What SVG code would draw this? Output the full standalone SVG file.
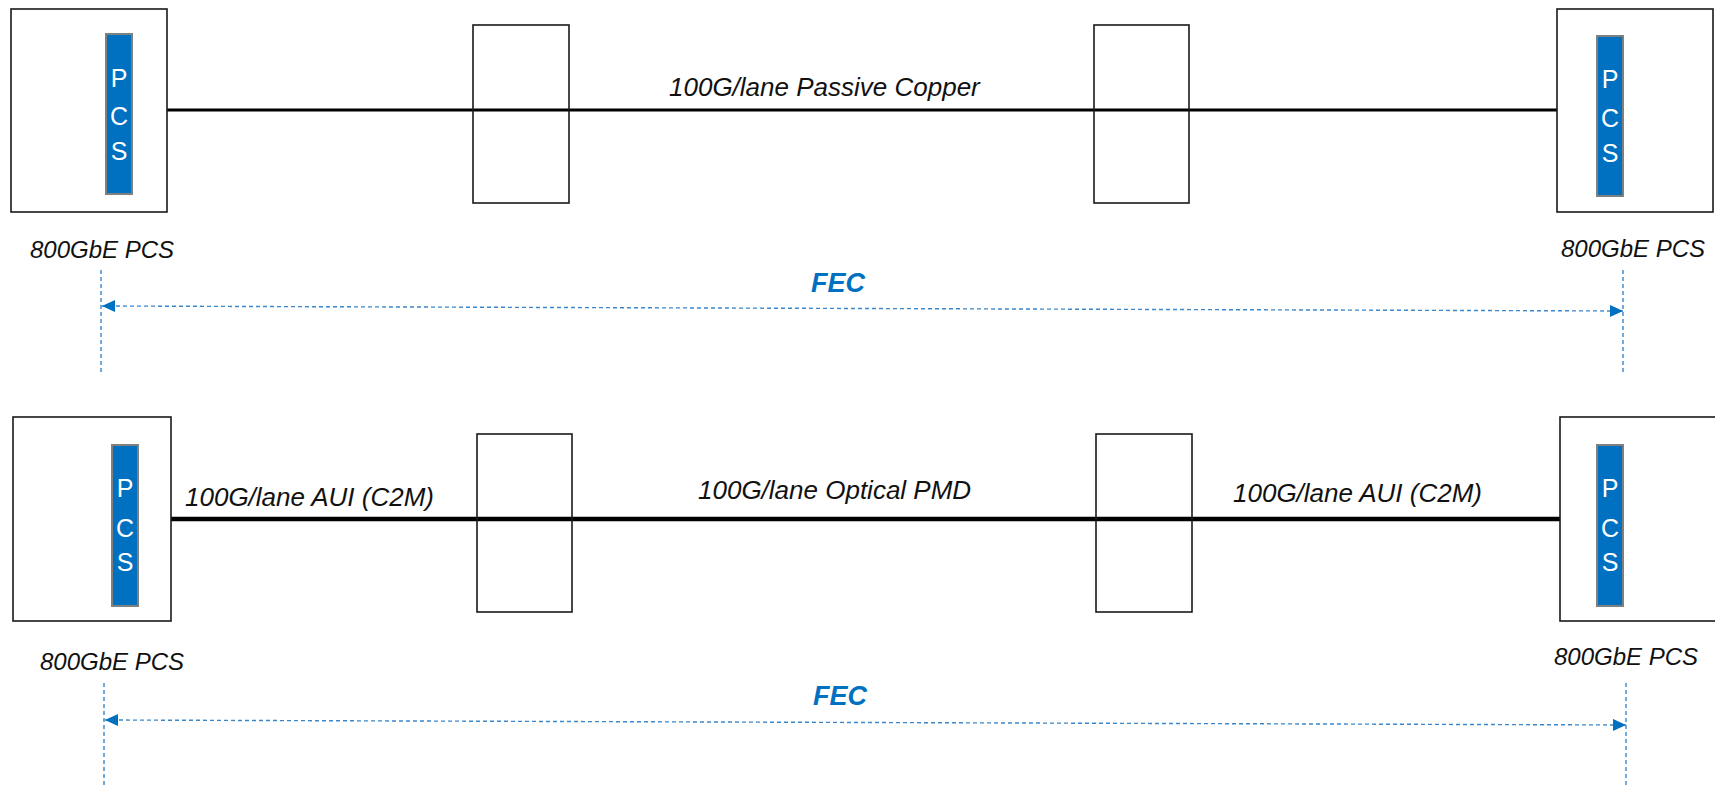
<svg xmlns="http://www.w3.org/2000/svg" width="1715" height="785" viewBox="0 0 1715 785">
<defs>
<style>
.box{fill:#fff;stroke:#1a1a1a;stroke-width:1.6}
.pcs{fill:#0070C0;stroke:#808080;stroke-width:2}
.pl{font-family:"Liberation Sans",Arial,sans-serif;font-size:25px;fill:#fff;text-anchor:middle}
.lbl{font-family:"Liberation Sans",Arial,sans-serif;font-style:italic;font-size:24px;fill:#111}
.link{font-family:"Liberation Sans",Arial,sans-serif;font-style:italic;font-size:26px;fill:#111}
.fec{font-family:"Liberation Sans",Arial,sans-serif;font-style:italic;font-weight:bold;font-size:27px;fill:#0070C0;text-anchor:middle}
.dash{fill:none;stroke:#3A87CC;stroke-width:1.4;stroke-dasharray:4 3}
.wire{stroke:#000;fill:none}
</style>
<marker id="ah" viewBox="0 0 13 12" refX="13" refY="6" markerWidth="13" markerHeight="12" markerUnits="userSpaceOnUse" orient="auto-start-reverse">
<path d="M0,0 L13,6 L0,12 Z" fill="#0070C0"/>
</marker>
</defs>
<rect width="1715" height="785" fill="#fff"/>

<g id="connectors">
<line class="wire" x1="167" y1="110" x2="1557" y2="110" stroke-width="3"/>
<line class="wire" x1="171" y1="519" x2="1560" y2="519" stroke-width="4.5"/>
<line class="dash" x1="101" y1="270" x2="101" y2="373"/>
<line class="dash" x1="1623" y1="270" x2="1623" y2="373"/>
<line class="dash" x1="102" y1="306" x2="1623" y2="311" marker-start="url(#ah)" marker-end="url(#ah)"/>
<line class="dash" x1="104" y1="683" x2="104" y2="785"/>
<line class="dash" x1="1626" y1="683" x2="1626" y2="785"/>
<line class="dash" x1="105" y1="720" x2="1626" y2="725" marker-start="url(#ah)" marker-end="url(#ah)"/>
</g>

<g id="top-left-pcs">
<rect class="box" x="11" y="9" width="156" height="203"/>
<rect class="pcs" x="106" y="34" width="26" height="160"/>
<text class="pl" x="119" y="87">P</text>
<text class="pl" x="119" y="125">C</text>
<text class="pl" x="119" y="160">S</text>
<text class="lbl" x="30" y="258">800GbE PCS</text>
</g>

<g id="top-mid-1"><rect class="box" x="473" y="25" width="96" height="178" style="fill:none"/></g>
<g id="top-mid-2"><rect class="box" x="1094" y="25" width="95" height="178" style="fill:none"/></g>

<g id="top-right-pcs">
<rect class="box" x="1557" y="9" width="156" height="203"/>
<rect class="pcs" x="1597" y="36" width="26" height="160"/>
<text class="pl" x="1610" y="88">P</text>
<text class="pl" x="1610" y="127">C</text>
<text class="pl" x="1610" y="162">S</text>
<text class="lbl" x="1561" y="257">800GbE PCS</text>
</g>

<g id="top-labels">
<text class="link" x="669" y="96">100G/lane Passive Copper</text>
<text class="fec" x="838" y="292">FEC</text>
</g>

<g id="bot-left-pcs">
<rect class="box" x="13" y="417" width="158" height="204"/>
<rect class="pcs" x="112" y="445" width="26" height="161"/>
<text class="pl" x="125" y="497">P</text>
<text class="pl" x="125" y="537">C</text>
<text class="pl" x="125" y="571">S</text>
<text class="lbl" x="40" y="670">800GbE PCS</text>
</g>

<g id="bot-mid-1"><rect class="box" x="477" y="434" width="95" height="178" style="fill:none"/></g>
<g id="bot-mid-2"><rect class="box" x="1096" y="434" width="96" height="178" style="fill:none"/></g>

<g id="bot-right-pcs">
<rect class="box" x="1560" y="417" width="156" height="204"/>
<rect class="pcs" x="1597" y="445" width="26" height="161"/>
<text class="pl" x="1610" y="497">P</text>
<text class="pl" x="1610" y="537">C</text>
<text class="pl" x="1610" y="571">S</text>
<text class="lbl" x="1554" y="665">800GbE PCS</text>
</g>

<g id="bot-labels">
<text class="link" x="185" y="506">100G/lane AUI (C2M)</text>
<text class="link" x="698" y="499">100G/lane Optical PMD</text>
<text class="link" x="1233" y="502">100G/lane AUI (C2M)</text>
<text class="fec" x="840" y="705">FEC</text>
</g>
</svg>
